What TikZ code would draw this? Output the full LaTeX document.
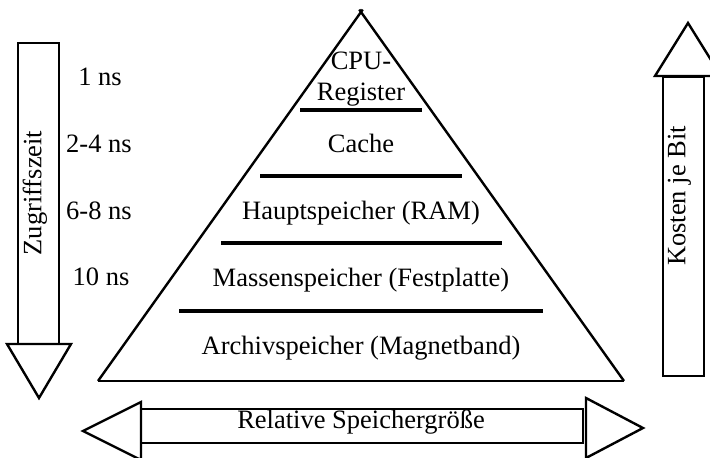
\documentclass[tikz,border=0pt]{standalone}
\usepackage{fontspec}
\setmainfont{Liberation Serif}
\usetikzlibrary{calc}
\begin{document}
\begin{tikzpicture}[x=1pt,y=-1pt,
  txt/.style={inner sep=0pt, font=\fontsize{26.5}{33}\selectfont},
  bl/.style={txt, anchor=base},
  lbl/.style={txt, text height=0.68em, text depth=0.2em},
  outl/.style={line width=2.4pt, line join=miter},
  sepline/.style={line width=3.3pt}]
\useasboundingbox (0,0) rectangle (710,458);
% pyramid
\coordinate (apex) at (361,12);
\coordinate (pbl) at (98,381);
\coordinate (pbr) at (624,381);
\draw[outl] (pbl) -- (pbr);
\draw[outl] (pbl) -- ($(apex)!-3pt!(pbl)$);
\draw[outl] (pbr) -- ($(apex)!-3pt!(pbr)$);
% separators
\draw[sepline] (300,110) -- (422,110);
\draw[sepline] (260,176) -- (462,176);
\draw[sepline] (221,243) -- (502,243);
\draw[sepline] (179,311) -- (543,311);
% pyramid texts
\node[bl] (cpu) at (361,69) {CPU-};
\node[bl] (reg) at (361,100) {Register};
\node[bl] (cache) at (361,152) {Cache};
\node[bl] (ram) at (361,219) {Hauptspeicher (RAM)};
\node[bl] (hdd) at (361,286) {Massenspeicher (Festplatte)};
\node[bl] (tape) at (361,354) {Archivspeicher (Magnetband)};
% access times
\node[bl] (t1) at (100,85) {1 ns};
\node[bl] (t2) at (99,152) {2-4 ns};
\node[bl] (t3) at (99,219) {6-8 ns};
\node[bl] (t4) at (101,285) {10 ns};
% left arrow
\draw[outl] (18,43) rectangle (59,344);
\draw[outl] (7,344) -- (71,344) -- (39,398) -- cycle;
\node[lbl, rotate=90] (zz) at (39,193) {Zugriffszeit};
% right arrow
\draw[outl] (655,76) -- (721,76) -- (688,23) -- cycle;
\draw[outl] (663,77) rectangle (704,376);
\node[lbl, rotate=90] (kb) at (683,196) {Kosten je Bit};
% bottom arrow
\draw[outl] (141,402) -- (141,460) -- (83,431) -- cycle;
\draw[outl] (141,409) rectangle (583,443);
\draw[outl] (586,398) -- (586,458) -- (643,428) -- cycle;
\node[lbl] (rs) at (361,426) {Relative Speichergröße};
\end{tikzpicture}
\end{document}
